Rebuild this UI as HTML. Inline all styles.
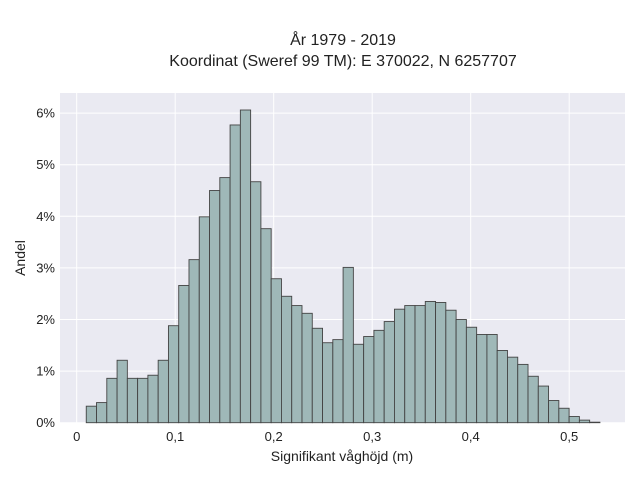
<!DOCTYPE html>
<html><head><meta charset="utf-8"><style>
html,body{margin:0;padding:0;background:#fff;width:640px;height:480px;overflow:hidden}
svg{display:block;font-family:"Liberation Sans",sans-serif}
</style></head><body>
<svg id="chart" width="640" height="480">
<text x="343" y="45" text-anchor="middle" font-size="16" fill="#222">År 1979 - 2019</text>
<text x="343" y="66" text-anchor="middle" font-size="16" fill="#222">Koordinat (Sweref 99 TM): E 370022, N 6257707</text>
<rect x="60" y="93" width="565" height="330" fill="#eaeaf2"/>
<g id="grid"></g><g id="bars"></g><g id="ticks"></g>
<text x="342" y="461" text-anchor="middle" font-size="14" fill="#222">Signifikant våghöjd (m)</text>
<text transform="translate(25,258) rotate(-90)" text-anchor="middle" font-size="14" fill="#222">Andel</text>
</svg>
<script>
const binStart = 0.0097;
const binWidth = 0.01043;
const shares = [0.32,0.39,0.86,1.21,0.86,0.86,0.92,1.21,1.88,2.66,3.16,3.99,4.50,4.75,5.77,6.06,4.67,3.76,2.79,2.45,2.27,2.12,1.83,1.55,1.61,3.01,1.52,1.67,1.79,1.96,2.20,2.27,2.27,2.35,2.33,2.18,2.00,1.85,1.71,1.71,1.40,1.27,1.13,0.90,0.71,0.43,0.28,0.12,0.05,0.01];
const xTicks = [0,0.1,0.2,0.3,0.4,0.5];
const xTickLabels = ["0","0,1","0,2","0,3","0,4","0,5"];
const yTicks = [0,1,2,3,4,5,6];
const yTickLabels = ["0%","1%","2%","3%","4%","5%","6%"];
const NS="http://www.w3.org/2000/svg";
function X(v){return 76.7+v*985;}
function Y(p){return 422.7-p*51.6;}
const grid=document.getElementById('grid'),bars=document.getElementById('bars'),ticks=document.getElementById('ticks');
function mk(tag,attrs,parent){const e=document.createElementNS(NS,tag);for(const k in attrs)e.setAttribute(k,attrs[k]);parent.appendChild(e);return e;}
xTicks.forEach((v,i)=>{
  const l=mk('line',{x1:X(v),x2:X(v),y1:93,y2:423,stroke:'#fff','stroke-width':1},grid);
  
  
  const t=mk('text',{x:X(v),y:441,'text-anchor':'middle','font-size':13,fill:'#222'},ticks);
  t.textContent=xTickLabels[i];
  
  
});
yTicks.forEach((v,i)=>{
  const l=mk('line',{x1:60,x2:625,y1:Y(v),y2:Y(v),stroke:'#fff','stroke-width':1},grid);
  
  
  const t=mk('text',{x:55,y:Y(v)+4.5,'text-anchor':'end','font-size':13,fill:'#222'},ticks);
  t.textContent=yTickLabels[i];
  
  
});
shares.forEach((p,i)=>{
  const x0=X(binStart+i*binWidth),x1=X(binStart+(i+1)*binWidth);
  const r=mk('rect',{x:x0,y:Y(p),width:x1-x0,height:Y(0)-Y(p),fill:'#9fb8b8',stroke:'#444','stroke-width':0.9},bars);
  
  
});
</script>
</body></html>
